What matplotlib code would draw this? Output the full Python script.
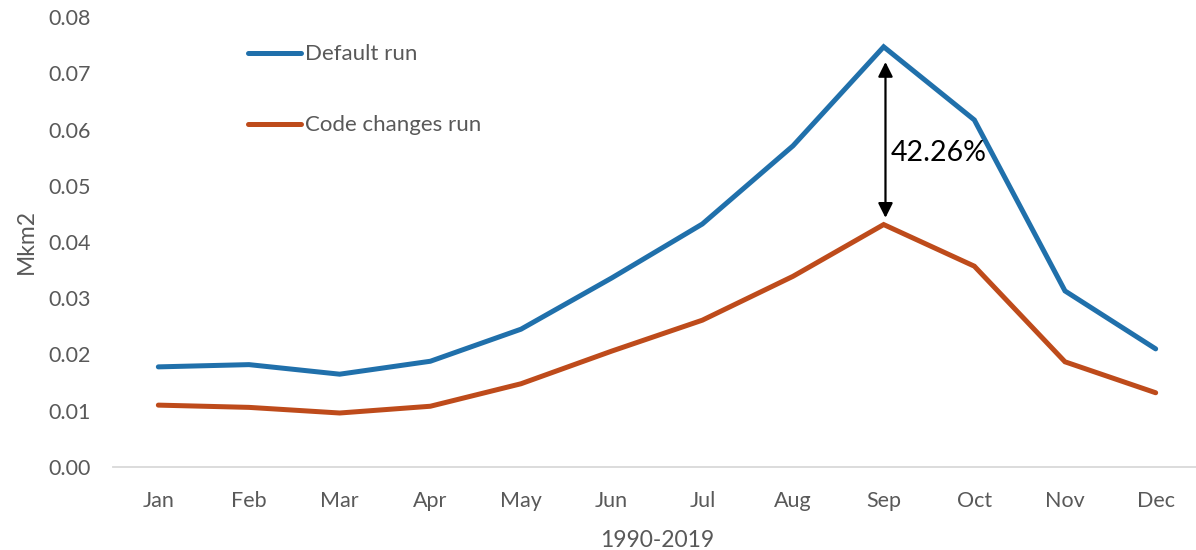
import matplotlib
matplotlib.use("Agg")
import matplotlib.pyplot as plt
from matplotlib.lines import Line2D

months = ["Jan", "Feb", "Mar", "Apr", "May", "Jun", "Jul", "Aug", "Sep", "Oct", "Nov", "Dec"]
default_run = [0.0178, 0.0182, 0.0165, 0.0188, 0.0245, 0.0336, 0.0432, 0.0571, 0.0747, 0.0617, 0.0313, 0.0210]
code_changes_run = [0.0110, 0.0106, 0.0096, 0.0108, 0.0148, 0.0206, 0.0261, 0.0339, 0.0431, 0.0357, 0.0187, 0.0132]
yticks = [0.00, 0.01, 0.02, 0.03, 0.04, 0.05, 0.06, 0.07, 0.08]
pct_label = "42.26%"

BLUE = "#2070AB"
ORANGE = "#BE4B1B"
GRAY = "#595959"

plt.rcParams['font.family'] = ['Lato', 'DejaVu Sans']

fig = plt.figure(figsize=(11.96, 5.5), dpi=100)
ax = fig.add_axes([113/1196, 1-467/550, (1201-113)/1196, (467-17)/550])

x = list(range(len(months)))
ax.plot(x, default_run, color=BLUE, lw=3.6, solid_capstyle='round', solid_joinstyle='miter', label="Default run")
ax.plot(x, code_changes_run, color=ORANGE, lw=3.6, solid_capstyle='round', solid_joinstyle='miter', label="Code changes run")

ax.set_xlim(-0.5, 11.5)
ax.set_ylim(0, 0.08)
ax.set_yticks(yticks)
ax.set_yticklabels([f"{v:.2f}" for v in yticks])
ax.set_xticks(x)
ax.set_xticklabels(months)
ax.tick_params(axis='both', length=0, labelsize=15.5, colors=GRAY)
ax.tick_params(axis='y', pad=16)
ax.tick_params(axis='x', pad=17)

for s in ['top', 'right', 'left']:
    ax.spines[s].set_visible(False)
ax.spines['bottom'].set_color('#D9D9D9')
ax.spines['bottom'].set_linewidth(1.3)

ax.set_ylabel("Mkm2", fontsize=16.5, color=GRAY, labelpad=8)
ax.set_xlabel("1990-2019", fontsize=16.5, color=GRAY, labelpad=14)

# Legend (manual placement to match reference)
fig_w, fig_h = 1196, 550
for (y_px, col, lab) in [(53, BLUE, "Default run"), (124, ORANGE, "Code changes run")]:
    fig.add_artist(Line2D([248/fig_w, 301/fig_w], [1-y_px/fig_h, 1-y_px/fig_h], color=col, lw=3.6,
                          solid_capstyle='round', transform=fig.transFigure))
    fig.text(305/fig_w, 1-(y_px+1)/fig_h, lab, fontsize=16, color=GRAY, va='center', ha='left')

# Double arrow annotation at Sep
ax.annotate("", xy=(8.02, 0.0720), xytext=(8.02, 0.0443),
            arrowprops=dict(arrowstyle='<|-|>', color='black', lw=1.6, mutation_scale=22, shrinkA=0, shrinkB=0))
ax.text(8.08, 0.0559, pct_label, fontsize=20.5, color='black', va='center', ha='left')

fig.savefig("out.png", dpi=100)
